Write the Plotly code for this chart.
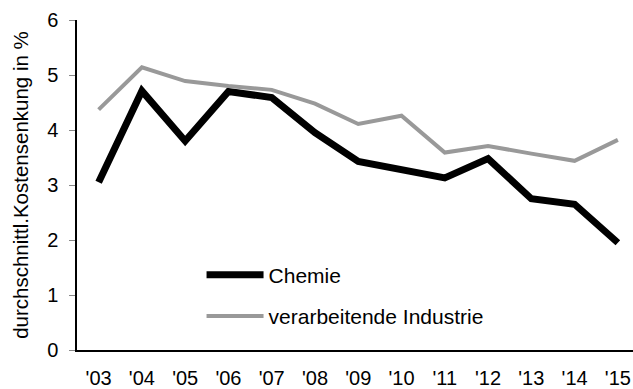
import plotly.graph_objects as go

years = ["'03", "'04", "'05", "'06", "'07", "'08", "'09", "'10", "'11", "'12", "'13", "'14", "'15"]
chemie = [3.05, 4.71, 3.80, 4.70, 4.59, 3.95, 3.43, 3.27, 3.13, 3.48, 2.75, 2.65, 1.95]
industrie = [4.37, 5.14, 4.89, 4.80, 4.73, 4.48, 4.11, 4.26, 3.59, 3.71, 3.57, 3.44, 3.82]

font = "Liberation Sans, Arial, sans-serif"

fig = go.Figure()
fig.add_trace(go.Scatter(x=years, y=chemie, mode="lines", name="Chemie",
                         line=dict(color="black", width=7), legend="legend"))
fig.add_trace(go.Scatter(x=years, y=industrie, mode="lines", name="verarbeitende Industrie",
                         line=dict(color="#999999", width=4), legend="legend2"))

legend_style = dict(xanchor="left", yanchor="top", bgcolor="rgba(0,0,0,0)",
                    itemwidth=57, font=dict(size=21, family=font))

fig.update_layout(
    width=633, height=389,
    margin=dict(l=77, r=0, t=20, b=33),
    paper_bgcolor="white", plot_bgcolor="white",
    font=dict(family=font, size=20, color="black"),
    showlegend=True,
    legend=dict(x=0.224, y=0.289, **legend_style),
    legend2=dict(x=0.224, y=0.164, **legend_style),
    xaxis=dict(type="category", range=[-0.5, 12.35], showgrid=False,
               showline=True, linecolor="black", linewidth=1.5,
               ticks="", ticklabelstandoff=9, tickfont=dict(size=20)),
    yaxis=dict(range=[0, 6], dtick=1, showgrid=False, zeroline=False,
               showline=True, linecolor="black", linewidth=1.5,
               ticks="outside", ticklen=6, tickcolor="#888888",
               ticklabelstandoff=7, tickfont=dict(size=20),
               title=dict(text="durchschnittl.Kostensenkung in %",
                          font=dict(size=20.5), standoff=13)),
)

fig.write_html("out.html")
